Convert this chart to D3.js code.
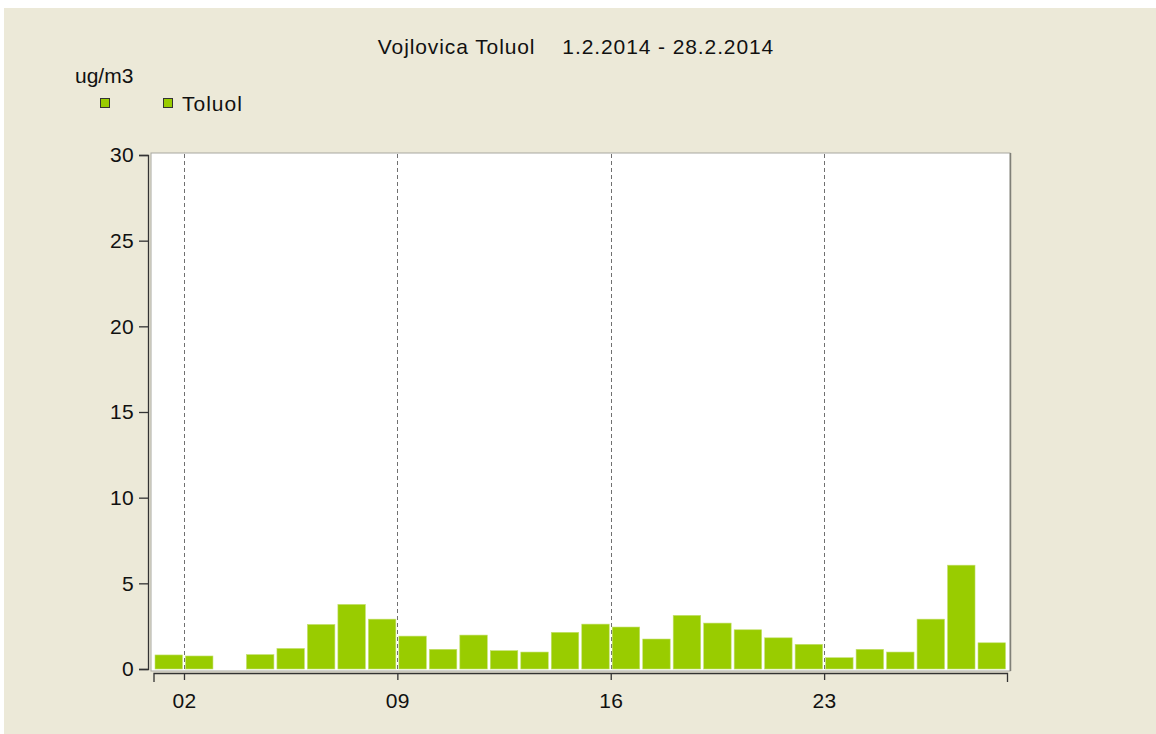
<!DOCTYPE html>
<html>
<head>
<meta charset="utf-8">
<script src="https://cdn.jsdelivr.net/npm/d3@7"></script>
<style>
  body { margin: 0; background: #ffffff; }
  svg { display: block; font-family: "Liberation Sans", Arial, sans-serif; }
</style>
</head>
<body>
<script>
var title = "Vojlovica Toluol    1.2.2014 - 28.2.2014";
var unitLabel = "ug/m3";
var seriesName = "Toluol";
// day of February 2014 and daily mean, day 3 has no value
var days = [1, 2, 3, 4, 5, 6, 7, 8, 9, 10, 11, 12, 13, 14,
            15, 16, 17, 18, 19, 20, 21, 22, 23, 24, 25, 26, 27, 28];
var toluol = [0.82, 0.76, null, 0.84, 1.2, 2.6, 3.77, 2.91, 1.92, 1.15, 1.98, 1.07, 0.99, 2.14,
              2.62, 2.45, 1.75, 3.13, 2.68, 2.29, 1.82, 1.44, 0.66, 1.15, 0.99, 2.91, 6.06, 1.53];
var yTicks = [0, 5, 10, 15, 20, 25, 30];
var xTickDays = [2, 9, 16, 23];

var width = 1156, height = 734;
var svg = d3.select("body").append("svg")
    .attr("width", width)
    .attr("height", height);

// beige panel
svg.append("rect")
    .attr("x", 4).attr("y", 8)
    .attr("width", width - 4).attr("height", height - 8)
    .attr("fill", "#ece9d8");

var plotLeft = 151, plotRight = 1010, plotTop = 153, plotBottom = 671;

var xScale = d3.scaleTime()
    .domain([new Date(2014, 1, 1), new Date(2014, 2, 1)])
    .range([153.5, 1007]);
var yScale = d3.scaleLinear()
    .domain([0, 30])
    .range([669, 155]);

// plot area
svg.append("rect")
    .attr("x", plotLeft).attr("y", plotTop)
    .attr("width", plotRight - plotLeft).attr("height", plotBottom - plotTop)
    .attr("fill", "#ffffff")
    .attr("stroke", "#a8a8a0");
svg.append("line")
    .attr("x1", plotRight + 0.5).attr("x2", plotRight + 0.5)
    .attr("y1", plotTop).attr("y2", plotBottom)
    .attr("stroke", "#808078").attr("stroke-width", 1.5);

// dashed day lines
svg.selectAll(".grid")
    .data(xTickDays)
    .enter()
    .append("line")
    .attr("class", "grid")
    .attr("x1", function (d) { return Math.round(xScale(new Date(2014, 1, d))) + 0.5; })
    .attr("x2", function (d) { return Math.round(xScale(new Date(2014, 1, d))) + 0.5; })
    .attr("y1", plotTop + 1)
    .attr("y2", plotBottom)
    .attr("stroke", "#707070")
    .attr("stroke-dasharray", "4,3");

// bars
var barData = days.map(function (d, i) { return { day: d, value: toluol[i] }; })
    .filter(function (d) { return d.value != null; });
svg.selectAll(".bar")
    .data(barData)
    .enter()
    .append("rect")
    .attr("class", "bar")
    .attr("x", function (d) { return xScale(new Date(2014, 1, d.day)) + 1.5; })
    .attr("width", function (d) {
        return xScale(new Date(2014, 1, d.day + 1)) - xScale(new Date(2014, 1, d.day)) - 3;
    })
    .attr("y", function (d) { return yScale(d.value); })
    .attr("height", function (d) { return yScale(0) - yScale(d.value); })
    .attr("fill", "#99cc00")
    .attr("stroke", "#c4e070")
    .attr("stroke-width", 0.6);

// axes
var yAxis = svg.append("g")
    .attr("transform", "translate(148,0)")
    .call(d3.axisLeft(yScale).tickValues(yTicks).tickSize(9).tickSizeOuter(9).tickPadding(5));
var xAxis = svg.append("g")
    .attr("transform", "translate(0,673)")
    .call(d3.axisBottom(xScale)
        .tickValues(xTickDays.map(function (d) { return new Date(2014, 1, d); }))
        .tickFormat(d3.timeFormat("%d"))
        .tickSize(7).tickSizeOuter(9).tickPadding(13));
[yAxis, xAxis].forEach(function (g) {
    g.selectAll("path, line").attr("stroke", "#333").attr("stroke-width", 1.3);
    g.selectAll("text")
        .attr("fill", "#111")
        .style("font-family", "'Liberation Sans', Arial, sans-serif")
        .style("font-size", "21px")
        .style("letter-spacing", "0.3px");
});

// title
svg.append("text")
    .attr("x", 576).attr("y", 54)
    .attr("text-anchor", "middle")
    .style("font-size", "21px")
    .style("letter-spacing", "0.9px")
    .style("white-space", "pre")
    .attr("fill", "#111")
    .text(title);

// unit and legend
svg.append("text")
    .attr("x", 75).attr("y", 83)
    .style("font-size", "21px")
    .attr("fill", "#111")
    .text(unitLabel);
[100, 163].forEach(function (x) {
    svg.append("rect")
        .attr("x", x + 0.5).attr("y", 98.5)
        .attr("width", 9).attr("height", 9)
        .attr("fill", "#99cc00")
        .attr("stroke", "#333");
});
svg.append("text")
    .attr("x", 182).attr("y", 111)
    .style("font-size", "21px")
    .style("letter-spacing", "1px")
    .attr("fill", "#111")
    .text(seriesName);
</script>
</body>
</html>
